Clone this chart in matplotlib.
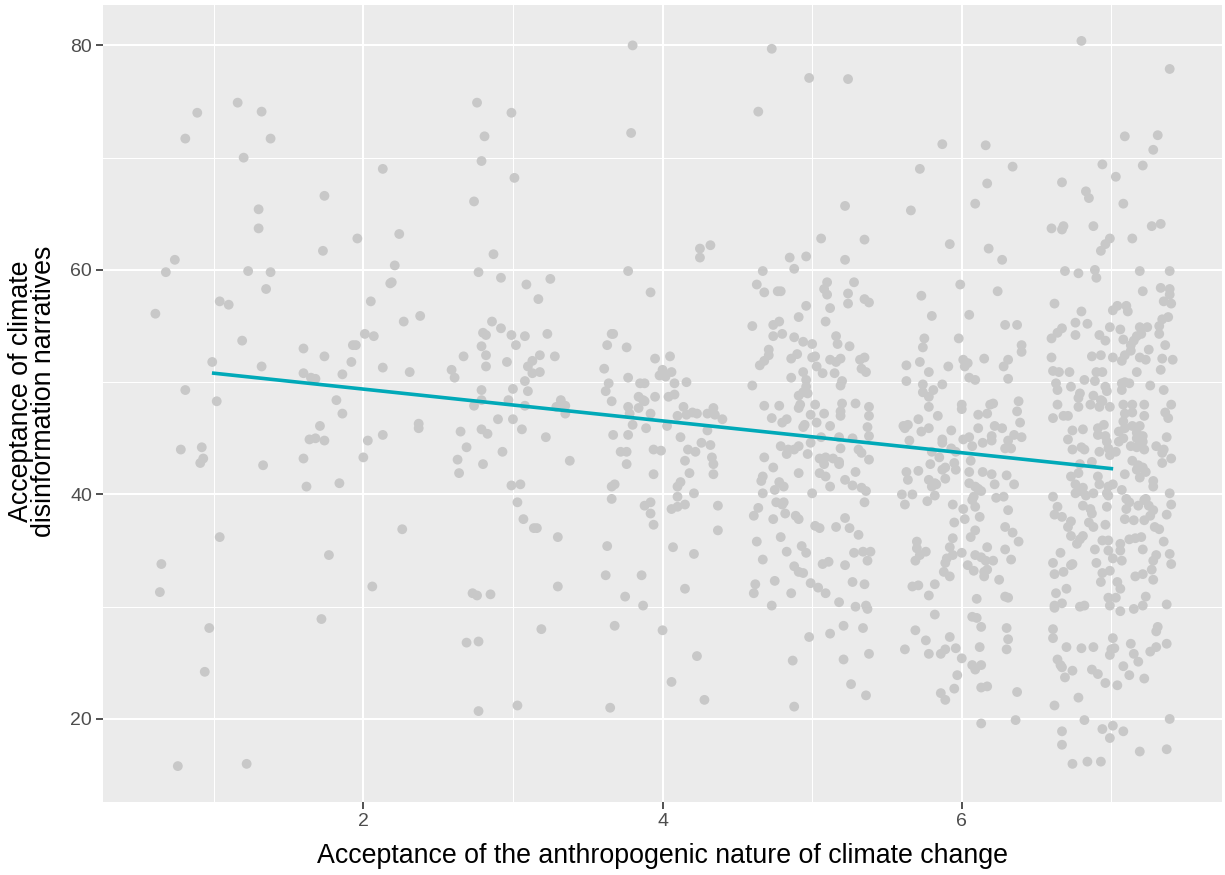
import matplotlib.pyplot as plt
import numpy as np

# jittered points, one pair of lists per answer level
x1 = [0.89, 0.81, 1.16, 1.32, 1.38, 1.20, 1.30, 1.30, 0.74, 0.68, 1.23, 1.38, 1.35, 1.04, 1.10,
      0.61, 1.19, 0.99, 1.32, 0.81, 1.02, 0.78, 0.92, 0.93, 0.91, 1.33, 1.04, 0.65, 0.64, 0.97,
      0.94, 0.76, 1.22]
y1 = [74.0, 71.7, 74.9, 74.1, 71.7, 70.0, 65.4, 63.7, 60.9, 59.8, 59.9, 59.8, 58.3, 57.2, 56.9,
      56.1, 53.7, 51.8, 51.4, 49.3, 48.3, 44.0, 44.2, 43.2, 42.8, 42.6, 36.2, 33.8, 31.3, 28.1,
      24.2, 15.8, 16.0]

x2 = [2.13, 1.74, 1.96, 2.24, 1.73, 2.21, 2.19, 2.18, 2.05, 2.27, 2.38, 2.01, 2.07, 1.60, 1.93,
      1.95, 1.74, 1.92, 2.13, 2.31, 1.60, 1.65, 1.68, 1.86, 1.82, 1.86, 1.71, 1.64, 1.68, 1.74,
      1.60, 2.03, 2.13, 2.37, 2.37, 2.00, 1.62, 1.84, 1.77, 2.26, 2.06, 1.72]
y2 = [69.0, 66.6, 62.8, 63.2, 61.7, 60.4, 58.9, 58.8, 57.2, 55.4, 55.9, 54.3, 54.1, 53.0, 53.3,
      53.3, 52.3, 51.8, 51.3, 50.9, 50.8, 50.4, 50.3, 50.7, 48.4, 47.2, 46.1, 44.9, 45.0, 44.8,
      43.2, 44.8, 45.3, 46.3, 45.9, 43.3, 40.7, 41.0, 34.6, 36.9, 31.8, 28.9]

x3 = [2.76, 2.99, 2.81, 2.79, 3.01, 2.74, 2.87, 2.77, 2.92, 3.09, 3.25, 3.17, 2.86, 2.92, 2.80,
      2.82, 2.99, 3.08, 3.23, 3.02, 2.79, 2.67, 2.82, 2.96, 2.82, 3.18, 3.13, 3.10, 3.13, 3.18,
      3.28, 2.59, 2.61, 3.08, 2.79, 3.00, 3.10, 3.32, 2.97, 2.79, 2.74, 3.08, 3.29, 3.35, 3.35,
      2.90, 3.00, 2.65, 2.79, 2.83, 3.06, 3.22, 2.69, 2.63, 2.64, 2.80, 2.93, 3.38, 2.99, 3.05,
      3.03, 3.07, 3.14, 3.16, 3.30, 2.73, 2.76, 2.85, 2.69, 2.77, 2.77, 3.03, 3.19, 3.30]
y3 = [74.9, 74.0, 71.9, 69.7, 68.2, 66.1, 61.4, 59.8, 59.3, 58.7, 59.2, 57.4, 55.4, 54.8, 54.4,
      54.2, 54.2, 54.1, 54.3, 53.3, 53.2, 52.3, 52.4, 51.8, 51.4, 52.4, 51.9, 51.4, 50.8, 50.9,
      52.3, 51.1, 50.4, 50.1, 49.3, 49.4, 49.2, 48.4, 48.4, 48.4, 47.9, 47.9, 47.8, 47.9, 47.2,
      46.7, 46.7, 45.6, 45.8, 45.4, 45.8, 45.1, 44.2, 43.1, 41.9, 42.7, 43.8, 43.0, 40.8, 40.9,
      39.3, 37.8, 37.0, 37.0, 36.2, 31.2, 31.0, 31.1, 26.8, 26.9, 20.7, 21.2, 28.0, 31.8]

x4 = [3.80, 3.79, 4.25, 4.25, 4.32, 3.77, 3.92, 3.66, 3.67, 3.63, 3.76, 3.61, 3.64, 3.62, 3.77,
      3.85, 3.88, 3.95, 4.05, 4.00, 3.98, 4.02, 4.06, 4.08, 4.16, 3.84, 3.87, 3.95, 4.04, 4.08,
      3.66, 3.77, 3.84, 3.78, 3.88, 4.14, 3.67, 3.77, 3.80, 3.89, 3.92, 3.72, 3.76, 3.76, 3.94,
      3.99, 3.94, 3.66, 3.68, 3.66, 3.88, 3.92, 3.92, 3.94, 3.63, 3.62, 3.86, 3.75, 3.87, 3.68,
      4.00, 4.03, 4.10, 4.16, 4.20, 4.23, 4.30, 4.34, 4.35, 4.40, 4.30, 4.12, 4.26, 4.32, 4.17,
      4.22, 4.15, 4.33, 4.34, 4.18, 4.34, 4.12, 4.10, 4.21, 4.10, 4.06, 4.10, 4.15, 4.37, 4.37,
      4.07, 4.21, 4.15, 4.06, 4.23, 4.28, 3.65]
y4 = [80.0, 72.2, 61.9, 61.1, 62.2, 59.9, 58.0, 54.3, 54.3, 53.3, 53.1, 51.2, 49.9, 49.2, 50.4,
      49.9, 49.9, 52.1, 52.3, 51.1, 50.6, 50.5, 50.9, 49.9, 50.0, 48.7, 48.4, 48.7, 48.7, 48.9,
      48.3, 47.8, 47.7, 47.2, 48.3, 47.8, 45.3, 45.3, 46.2, 45.9, 47.2, 43.8, 43.8, 42.7, 44.0,
      43.9, 41.8, 40.7, 40.9, 39.6, 39.0, 39.3, 38.3, 37.3, 35.4, 32.8, 32.8, 30.9, 30.1, 28.3,
      27.9, 46.1, 47.0, 47.1, 47.3, 47.2, 47.2, 47.7, 47.1, 46.7, 45.7, 45.1, 44.6, 44.4, 44.0,
      43.8, 43.0, 43.3, 42.7, 41.9, 41.8, 41.1, 40.7, 40.1, 39.8, 38.7, 38.9, 39.1, 39.0, 36.8,
      35.3, 34.7, 31.6, 23.3, 25.6, 21.7, 21.0]

x5 = [4.73, 4.98, 5.24, 4.64, 5.22, 5.06, 5.35, 4.85, 4.96, 5.22, 4.67, 4.88, 4.63, 4.68, 4.77,
      4.79, 5.10, 5.08, 5.10, 5.28, 5.24, 5.24, 5.35, 5.38, 4.96, 5.12, 4.91, 5.09, 4.60, 4.74,
      4.78, 4.74, 4.80, 4.88, 4.94, 5.00, 5.16, 5.17, 5.25, 4.71, 4.71, 4.68, 4.65, 4.86, 4.90,
      5.00, 5.02, 5.03, 5.12, 5.16, 5.19, 5.32, 5.35, 5.33, 5.36, 4.94, 5.07, 5.15, 4.86, 4.96,
      4.96, 5.20, 5.19, 4.60, 4.94, 4.91, 4.97,
      4.68, 4.78, 4.91, 4.92, 5.02, 5.20, 5.29, 5.38, 4.73, 4.80, 4.83, 4.94, 4.95, 4.99, 5.03,
      5.08, 5.12, 5.19, 5.19, 5.38, 5.37, 5.38, 4.99, 5.06, 5.18, 5.27, 4.79, 4.84, 4.83, 4.88,
      4.91, 4.97, 5.19, 5.31, 5.33, 5.38, 4.68, 5.05, 5.09, 5.08, 5.14, 5.18, 5.18, 4.74, 4.91,
      5.05, 5.09, 5.29, 5.22, 5.27, 5.12, 4.67, 4.66, 4.78, 4.81, 4.75, 4.67, 5.00, 5.33, 5.36,
      5.35, 4.76, 4.81, 4.80, 4.64, 4.61, 4.82, 4.74, 4.89, 4.91, 5.02, 5.05, 5.16, 5.22, 5.25,
      5.31, 4.63, 4.79, 4.93, 4.96, 4.83, 4.67, 5.28, 5.34, 5.37, 5.39, 5.07, 5.11, 5.22, 4.88,
      4.91, 4.94, 4.75, 4.62, 4.61, 4.86, 4.99, 5.04, 5.09, 5.27, 5.35, 4.73, 5.18, 5.29, 5.36,
      5.37, 5.21, 5.34, 4.98, 5.12, 5.38, 4.87, 5.21, 5.26, 5.36, 4.88]
y5 = [79.7, 77.1, 77.0, 74.1, 65.7, 62.8, 62.7, 61.1, 61.2, 60.9, 59.9, 60.1, 58.7, 58.0, 58.1,
      58.1, 58.9, 58.3, 57.8, 58.9, 57.9, 57.0, 57.4, 57.1, 56.8, 56.6, 55.8, 55.4, 55.0, 55.1,
      55.4, 54.1, 54.3, 54.0, 53.6, 53.4, 54.1, 53.4, 53.2, 52.9, 52.4, 51.9, 51.5, 52.1, 52.5,
      52.2, 52.3, 51.4, 52.0, 51.8, 52.1, 52.0, 52.2, 51.2, 50.9, 50.9, 50.8, 50.8, 50.4, 50.2,
      49.6, 50.1, 49.7, 49.7, 49.1, 48.8, 49.0,
      47.9, 47.9, 47.7, 48.0, 48.0, 48.1, 48.1, 47.8, 46.8, 46.4, 46.7, 46.0, 46.2, 47.1, 46.4,
      47.2, 46.1, 47.4, 47.0, 47.0, 46.0, 45.2, 44.6, 45.1, 45.1, 45.0, 44.3, 44.0, 43.6, 44.0,
      44.3, 43.6, 44.1, 44.0, 43.7, 43.1, 43.3, 43.2, 43.3, 42.7, 43.2, 42.9, 42.7, 42.4, 41.9,
      41.9, 41.6, 42.0, 41.3, 40.8, 40.7, 41.6, 41.2, 41.1, 40.7, 40.4, 40.1, 40.1, 40.6, 40.3,
      39.3, 39.3, 39.3, 39.1, 38.8, 38.1, 38.3, 37.8, 38.1, 37.8, 37.2, 37.0, 37.1, 37.9, 37.0,
      36.4, 35.8, 36.2, 35.4, 34.8, 34.9, 34.2, 34.8, 34.9, 34.1, 34.9, 33.8, 34.0, 33.7, 33.6,
      33.1, 33.0, 32.3, 32.0, 31.2, 31.2, 32.1, 31.7, 31.2, 32.2, 32.0, 30.1, 30.4, 30.0, 30.1,
      29.8, 28.3, 28.1, 27.3, 27.6, 25.8, 25.2, 25.3, 23.1, 22.1, 21.1]

x6 = [5.87, 6.16, 5.72, 6.34, 6.17, 5.66, 6.09, 5.92, 6.18, 6.27, 5.99, 5.73, 6.24, 5.80, 6.05,
      6.29, 6.37, 5.75, 5.74, 5.98, 6.40, 6.40, 5.63, 5.72, 5.78, 5.91, 6.01, 6.04, 6.02, 6.15,
      6.31, 6.28, 5.63, 5.74, 5.74, 5.81, 5.78, 5.87, 6.05, 6.09, 6.31,
      5.78, 6.00, 6.00, 6.19, 6.21, 6.38, 5.84, 6.11, 6.17, 6.37, 5.71, 5.61, 5.64, 5.62, 5.78,
      5.73, 5.93, 6.11, 6.22, 6.27, 6.39, 5.65, 5.87, 5.87, 6.01, 6.05, 6.07, 6.14, 6.20, 6.20,
      6.35, 6.40, 6.31, 6.29, 6.33, 5.80, 5.93, 5.96, 5.85, 6.06, 5.95, 5.96, 5.79, 5.63, 5.64,
      5.71, 5.87, 5.89, 6.05, 6.14, 6.20, 6.30, 5.89, 5.78, 5.82, 5.80, 5.83, 6.05, 6.09, 6.13,
      6.11, 6.22, 6.35, 5.60, 5.67, 5.62, 5.82, 5.77, 6.23, 6.28, 6.07, 6.09, 6.08, 5.94, 6.01,
      6.31, 6.12, 6.02, 5.95, 6.29, 6.34, 6.38, 6.06, 6.09, 5.94, 5.70, 5.70, 5.72, 5.69, 5.76,
      5.92, 5.94, 5.89, 5.90, 6.00, 6.09, 6.13, 6.16, 6.17, 6.21, 6.29, 6.33, 6.04, 6.08, 6.15,
      6.17, 6.15, 5.88, 5.92, 6.25, 5.67, 5.71, 5.82, 5.78, 6.10, 6.29, 6.31, 5.82, 6.07, 6.10,
      6.13, 6.30, 5.69, 5.92, 5.76, 5.62, 5.78, 5.86, 5.89, 5.96, 6.12, 6.31, 6.30, 6.00, 6.07,
      6.09, 6.13, 5.97, 5.95, 5.86, 5.89, 6.13, 6.17, 6.37, 6.13, 6.36]
y6 = [71.2, 71.1, 69.0, 69.2, 67.7, 65.3, 65.9, 62.3, 61.9, 60.9, 58.7, 57.7, 58.1, 55.9, 56.0,
      55.1, 55.1, 53.9, 53.1, 53.9, 53.3, 52.7, 51.5, 51.8, 50.9, 51.4, 52.0, 51.7, 51.4, 52.1,
      52.0, 51.4, 50.1, 49.8, 49.1, 49.3, 48.7, 49.8, 50.4, 50.2, 50.3,
      47.8, 48.0, 47.6, 48.0, 48.1, 48.3, 47.0, 47.1, 47.2, 47.4, 46.7, 46.1, 46.2, 45.9, 45.9,
      45.6, 45.7, 45.9, 46.1, 45.9, 46.4, 44.8, 44.9, 44.6, 44.9, 45.1, 44.3, 44.6, 44.8, 45.2,
      45.3, 45.1, 44.8, 44.1, 44.1, 43.8, 44.1, 43.8, 43.3, 43.0, 42.8, 42.2, 42.7, 42.0, 41.3,
      42.1, 42.2, 42.4, 42.0, 42.0, 41.8, 41.7, 41.4, 41.3, 41.0, 40.7, 40.9, 41.0, 40.7, 40.3,
      40.5, 40.9, 40.9, 40.0, 40.0, 39.1, 39.9, 39.4, 39.7, 39.8, 39.5, 38.9, 39.8, 39.1, 38.7,
      38.6, 38.0, 37.8, 37.5, 37.1, 36.6, 35.8, 36.2, 36.8, 36.1, 35.8, 35.2, 34.6, 34.1, 34.9,
      35.3, 34.6, 33.9, 34.3, 34.8, 34.6, 34.4, 34.1, 35.3, 34.1, 35.1, 34.2, 33.7, 33.2, 33.1,
      33.3, 32.7, 33.1, 32.7, 32.4, 31.8, 31.9, 32.0, 31.0, 30.7, 30.9, 30.8, 29.3, 29.1, 29.0,
      28.2, 28.1, 27.9, 27.3, 27.0, 26.2, 25.8, 25.8, 26.2, 26.3, 26.4, 27.1, 26.2, 25.4, 24.8,
      24.4, 24.8, 23.9, 22.7, 22.3, 21.7, 22.8, 22.9, 22.4, 19.6, 19.9]

x7 = [6.80, 7.39, 7.09, 7.31, 7.28, 6.94, 7.21, 7.03, 6.67, 6.83, 6.85, 7.08, 6.60, 6.68, 6.67,
      6.88, 7.27, 7.33, 6.99, 6.96, 6.93, 7.14, 6.69, 6.78, 6.89, 6.90, 7.19, 7.39, 7.21, 7.33,
      7.39, 7.39, 6.62, 6.80, 7.01, 7.04, 7.10, 7.11, 7.35, 7.40, 7.34, 7.38, 7.32, 6.76, 6.84,
      6.67, 6.64, 6.60, 6.76, 6.99, 7.06, 6.92, 6.96, 7.19, 7.24, 7.20, 7.17, 7.15, 7.13, 7.08,
      7.32, 7.36, 7.25, 6.60, 6.87, 6.93, 7.01, 7.07, 7.09, 7.13, 7.19, 7.23, 7.34, 7.41, 6.61,
      6.65, 6.72, 6.90, 6.94, 6.89, 7.17, 7.33, 6.63, 6.64, 6.73, 6.82, 6.96, 6.97, 7.07, 7.09,
      7.12, 7.07, 7.26, 7.35, 6.79, 6.78, 6.88, 6.93,
      6.64, 6.61, 6.68, 6.71, 6.78, 6.86, 6.92, 6.94, 6.99, 7.08, 7.14, 7.22, 7.09, 7.14, 7.22,
      7.08, 7.36, 7.38, 7.40, 6.74, 6.81, 6.71, 6.91, 6.95, 6.91, 6.96, 6.97, 7.05, 7.09, 7.14,
      7.19, 7.17, 7.21, 7.17, 7.21, 7.08, 7.05, 7.13, 7.17, 7.22, 7.37, 6.74, 6.80, 6.82, 6.92,
      6.98, 7.03, 6.99, 7.30, 7.35, 7.34, 7.40, 7.34, 6.87, 6.79, 6.73, 6.78, 7.14, 7.18, 7.21,
      7.17, 7.23, 7.19, 7.09, 6.91, 6.92, 6.98, 7.01, 6.76, 6.81, 6.79, 6.76, 6.83, 6.88, 6.97,
      6.98, 7.07, 7.28, 7.28, 7.39, 6.61, 7.10, 7.12, 7.10, 7.18, 7.22, 7.25, 7.23, 7.40, 6.64,
      6.62, 6.67, 6.81, 6.86, 6.87, 6.85, 6.88, 6.97, 6.73, 6.71, 7.09, 7.15, 7.22, 7.26, 7.28,
      7.29, 7.32, 7.37, 6.96, 6.73, 6.79, 6.81, 6.77, 6.94, 6.98, 7.06, 7.06, 7.12, 7.16, 7.20,
      7.35, 6.66, 6.89, 6.98, 7.01, 7.07, 7.21, 7.30, 7.28, 7.39, 7.40, 6.61, 6.62, 6.68, 6.73,
      6.74, 6.90, 6.94, 6.99, 6.93, 7.16, 7.21, 7.27, 7.28, 6.70, 7.04, 7.06, 6.63, 6.67, 6.62,
      6.62, 6.79, 6.82, 6.98, 7.03, 6.99, 7.06, 7.15, 7.23, 7.21, 7.37, 6.61, 6.61, 7.31, 7.30,
      6.70, 6.80, 6.88, 7.01, 7.00, 6.99, 7.02, 7.13, 7.26, 7.30, 7.37, 7.15, 7.18, 6.64, 6.66,
      6.67, 6.74, 6.69, 6.87, 6.91, 6.96, 7.08, 7.12, 7.04, 7.22, 6.78, 6.62, 6.82, 7.39, 6.94,
      7.01, 6.99, 7.08, 6.67, 6.67, 7.19, 7.37, 6.74, 6.84, 6.93]
y7 = [80.4, 77.9, 71.9, 72.0, 70.7, 69.4, 69.3, 68.3, 67.8, 67.0, 66.4, 65.9, 63.7, 63.9, 63.6,
      63.9, 63.9, 64.1, 62.8, 62.3, 61.7, 62.8, 59.9, 59.7, 60.0, 59.3, 59.9, 59.9, 58.1, 58.4,
      58.3, 57.8, 57.0, 56.3, 56.4, 56.8, 56.8, 56.3, 57.2, 57.0, 55.6, 55.8, 55.0, 55.3, 55.2,
      54.8, 54.4, 53.9, 54.2, 54.9, 54.7, 54.2, 53.7, 54.9, 54.9, 54.3, 54.1, 53.7, 53.3, 53.8,
      54.3, 53.3, 52.9, 52.2, 52.3, 52.4, 52.2, 51.9, 52.4, 52.8, 52.2, 52.0, 52.1, 52.0, 51.0,
      50.9, 50.9, 50.9, 50.9, 50.1, 50.9, 51.1, 49.9, 49.3, 49.6, 50.2, 49.6, 49.2, 49.9, 50.0,
      49.9, 49.3, 49.7, 49.3, 49.0, 48.6, 48.8, 48.4,
      48.0, 46.8, 47.0, 47.0, 47.8, 48.0, 47.8, 48.3, 47.8, 48.0, 48.0, 48.0, 47.2, 47.3, 47.0,
      46.5, 47.3, 46.8, 48.0, 45.7, 45.8, 44.9, 45.9, 46.2, 45.3, 45.2, 44.7, 45.6, 45.9, 46.1,
      46.1, 45.5, 45.2, 45.0, 44.7, 45.0, 44.7, 44.3, 44.2, 44.0, 45.1, 44.0, 44.2, 44.0, 43.8,
      44.1, 43.8, 43.5, 44.3, 44.0, 43.7, 43.2, 42.8, 42.9, 42.7, 41.6, 41.9, 43.0, 42.6, 42.4,
      42.2, 42.0, 41.5, 41.8, 41.6, 40.9, 40.7, 40.9, 40.9, 40.6, 40.3, 40.1, 39.9, 40.1, 40.1,
      39.9, 40.4, 41.2, 40.7, 40.1, 39.8, 39.6, 39.3, 38.7, 39.0, 39.5, 39.0, 39.6, 39.1, 38.9,
      38.2, 38.0, 39.0, 38.7, 38.3, 37.5, 37.1, 38.9, 37.6, 37.1, 37.8, 37.7, 37.7, 38.1, 38.6,
      37.1, 36.9, 38.2, 37.3, 36.3, 36.0, 36.3, 35.6, 35.9, 35.9, 35.6, 35.0, 36.0, 36.1, 36.2,
      35.8, 34.8, 35.1, 35.0, 34.3, 34.1, 35.1, 34.6, 34.1, 34.7, 33.8, 33.9, 32.9, 33.1, 33.7,
      33.8, 33.9, 33.0, 33.2, 32.2, 32.7, 32.9, 33.3, 32.4, 31.6, 32.2, 31.6, 31.2, 30.3, 29.9,
      30.1, 30.0, 30.1, 30.8, 30.8, 30.1, 29.6, 29.8, 30.9, 30.1, 30.2, 28.0, 27.2, 28.2, 27.8,
      26.4, 26.3, 26.4, 27.2, 26.2, 25.7, 26.3, 26.7, 26.0, 26.4, 26.7, 25.8, 25.1, 25.3, 24.8,
      24.6, 24.3, 23.7, 24.4, 24.0, 23.2, 24.7, 23.9, 23.0, 23.6, 21.9, 21.2, 19.9, 20.0, 19.1,
      19.4, 18.3, 18.9, 18.9, 17.7, 17.1, 17.3, 16.0, 16.2, 16.2]

# fitted linear trend (geom_smooth lm), ends
fit_x = [1, 7]
fit_y = [50.8, 42.3]

xs = x1 + x2 + x3 + x4 + x5 + x6 + x7
ys = y1 + y2 + y3 + y4 + y5 + y6 + y7

plt.rcParams["font.family"] = ["Liberation Sans", "DejaVu Sans"]

fig = plt.figure(figsize=(12.25, 8.75), dpi=100)
ax = fig.add_axes([0.0841, 0.0834, 0.9135, 0.9109])
ax.set_facecolor("#EBEBEB")
for s in ax.spines.values():
    s.set_visible(False)

ax.set_xlim(0.26, 7.74)
ax.set_ylim(12.6, 83.6)
ax.set_xticks([2, 4, 6])
ax.set_yticks([20, 40, 60, 80])
ax.set_xticks([1, 3, 5, 7], minor=True)
ax.set_yticks([30, 50, 70], minor=True)
ax.grid(True, which="major", color="white", linewidth=1.5)
ax.grid(True, which="minor", color="white", linewidth=0.75)
ax.set_axisbelow(True)
ax.tick_params(which="major", length=5, width=1.2, color="#333333", pad=3,
               labelsize=14, labelcolor="#4D4D4D")
ax.tick_params(which="minor", length=0)

ax.scatter(xs, ys, s=50, color="#C8C8C8", edgecolors="none", zorder=2)
ax.plot(fit_x, fit_y, color="#00A9B8", linewidth=2.6, zorder=3)

ax.set_xlabel("Acceptance of the anthropogenic nature of climate change", fontsize=19.3)
ax.set_ylabel("Acceptance of climate\ndisinformation narratives", fontsize=19.3, linespacing=0.85)
ax.xaxis.set_label_coords(0.5, -0.052)
ax.yaxis.set_label_coords(-0.041, 0.515)

fig.savefig("out.png", dpi=100)
